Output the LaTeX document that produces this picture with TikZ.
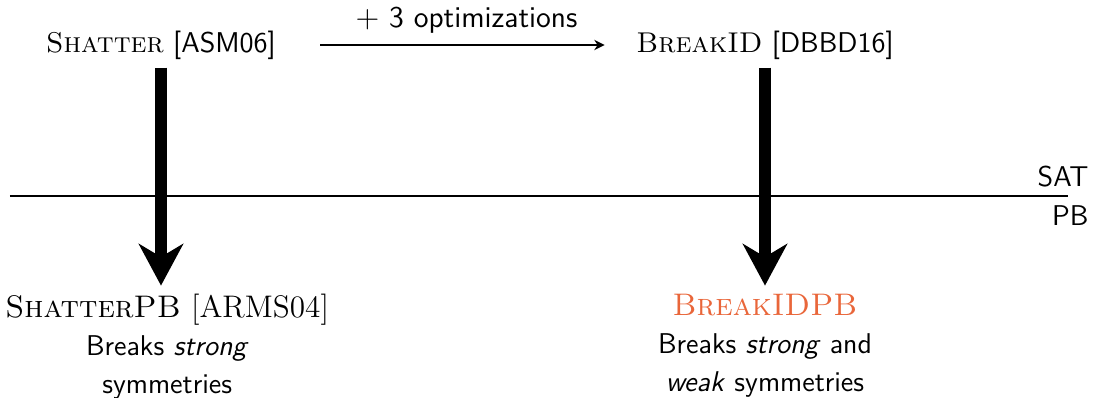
\documentclass[tikz,border=0pt]{standalone}
\usepackage{xcolor}
\usepackage{tikz}
\usetikzlibrary{arrows.meta,positioning}
\renewcommand{\familydefault}{\sfdefault}
\definecolor{pborange}{HTML}{E9663A}
\newcommand{\toolname}[1]{{\rmfamily\textsc{#1}}}

\begin{document}
\begin{tikzpicture}[
  font=\fontsize{11}{13.6}\selectfont,
  tool/.style={inner sep=3pt,align=center},
  result/.style={inner sep=3pt,align=center,anchor=north},
  side/.style={inner sep=2pt},
  bigar/.style={-{Stealth[length=16pt,width=17pt,inset=5pt]},line width=4.6pt},
  ar/.style={-{Stealth[length=4pt,width=4pt]},line width=0.45pt}
]
\useasboundingbox (0,0) rectangle (14.814,-5.366);

\node[tool] (shatter) at (2.176,-0.608) {\toolname{Shatter} [ASM06]};
\node[tool] (breakid) at (10.34,-0.608) {\toolname{BreakID} [DBBD16]};

\node[result] (shatterpb) at (2.26,-3.86)
     {{\fontsize{12}{14}\selectfont\rmfamily\textsc{ShatterPB} [ARMS04]}\\[1pt]
      Breaks \textit{strong}\\[1pt] symmetries};
\node[result] (breakidpb) at (10.34,-3.86)
     {{\fontsize{12}{14}\selectfont\rmfamily\color{pborange}\textsc{BreakIDPB}}\\[1pt]
      Breaks \textit{strong} and\\[1pt] \textit{weak} symmetries};

% SAT / PB divide
\coordinate (lineL) at (0.135,-2.649);
\coordinate (lineR) at (14.435,-2.649);
\draw[line width=0.8pt] (lineL) -- (lineR);
\node[side,anchor=south east] (sat) at (14.79,-2.60) {SAT};
\node[side,anchor=north east] (pb) at (14.79,-2.70) {PB};

\draw[ar,shorten <=14pt,shorten >=9pt] (shatter) -- node[above=1pt,xshift=4pt,font=\fontsize{11.6}{14}\selectfont] (opt) {$+$ 3 optimizations} (breakid);
\draw[bigar] (shatter.south) -- (shatter.south |- shatterpb.north);
\draw[bigar] (breakid.south) -- (breakid.south |- breakidpb.north);
\end{tikzpicture}
\end{document}
